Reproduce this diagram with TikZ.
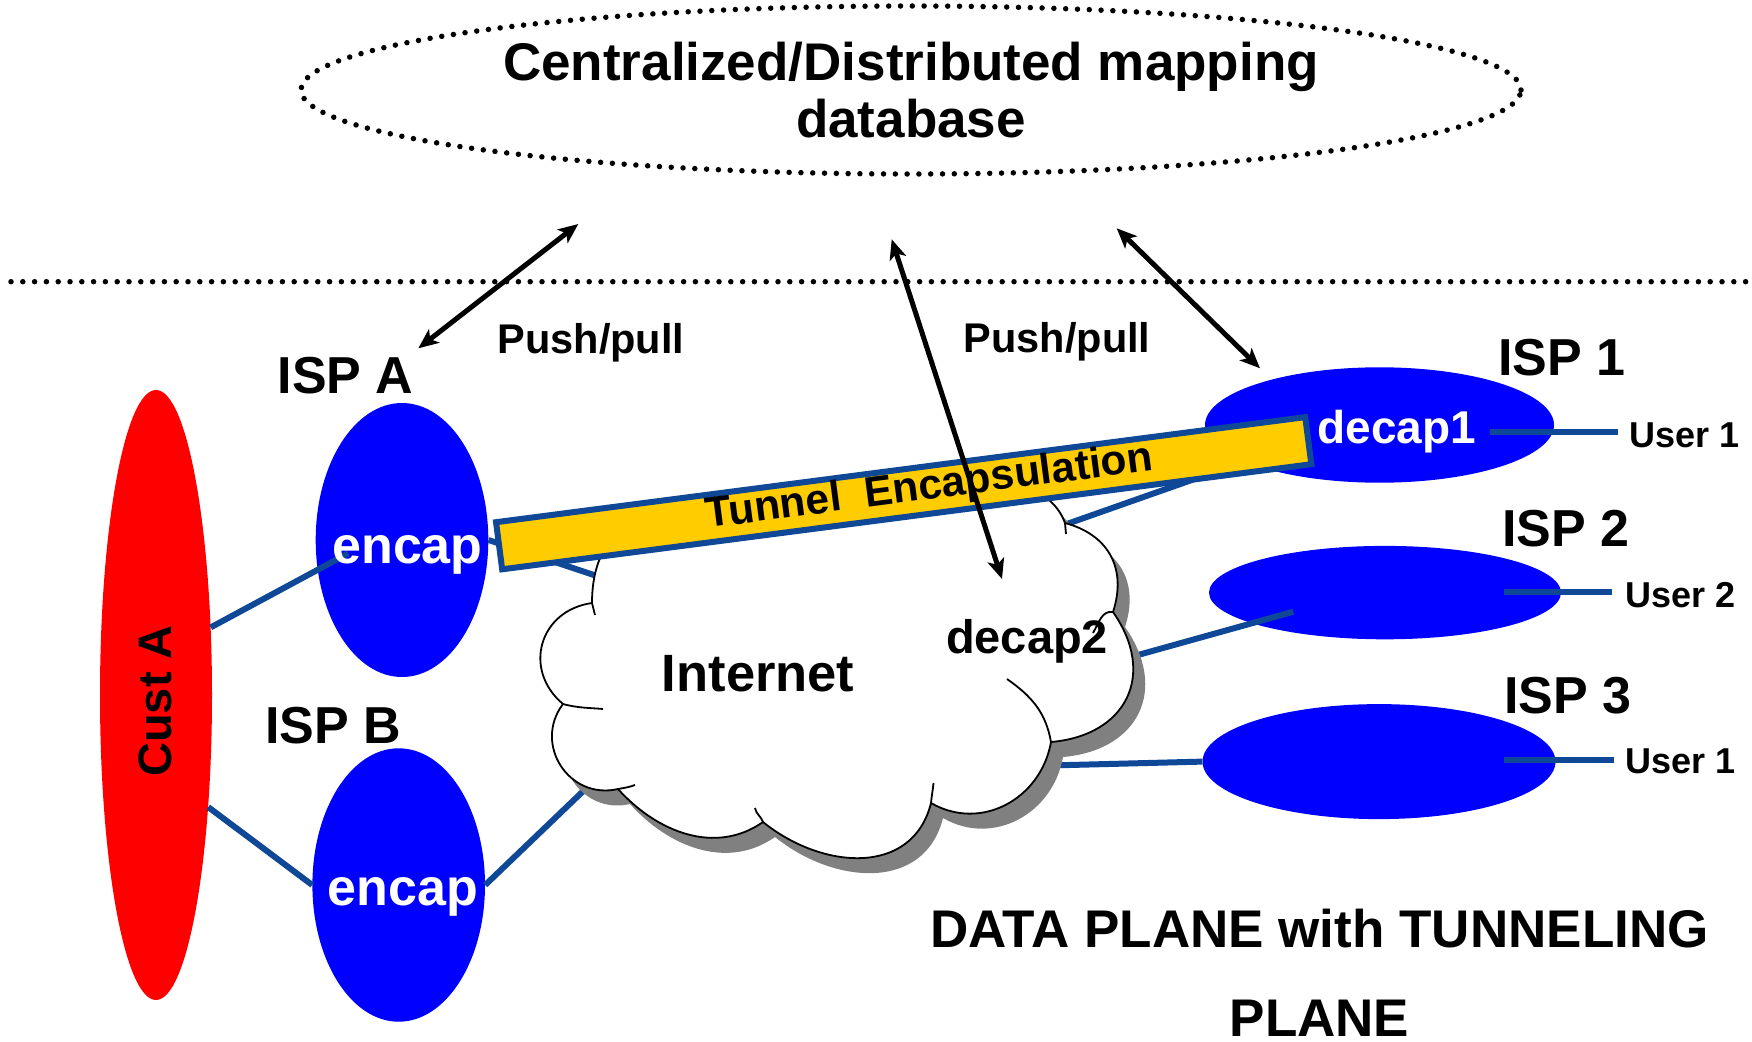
\documentclass[tikz,border=0pt]{standalone}
\usepackage{fontspec}
\setmainfont{Liberation Sans}
\usetikzlibrary{shapes.geometric,arrows.meta}

\definecolor{ispblue}{RGB}{0,0,255}
\definecolor{custred}{RGB}{255,0,0}
\definecolor{wireblue}{RGB}{14,72,150}
\definecolor{tunnelyellow}{RGB}{255,204,0}
\definecolor{shadowgray}{RGB}{128,128,128}

\tikzset{
  blob/.style={ellipse, inner sep=0pt, draw=none},
  ispblob/.style={blob, fill=ispblue},
  custblob/.style={blob, fill=custred},
  wire/.style={draw=wireblue, line width=6pt},
  userwire/.style={draw=wireblue, line width=6pt},
  dbarrow/.style={line width=5pt,
    {Stealth[length=20pt,width=17pt,inset=5pt]}-{Stealth[length=20pt,width=17pt,inset=5pt]}},
  dots/.style={line width=5.5pt, line cap=round, dash pattern=on 0pt off 11.8pt},
  txt/.style={inner sep=0pt, font=\bfseries\fontsize{#1}{#1}\selectfont},
  tunnelbar/.style={rectangle, rotate=7.4, minimum width=816pt, minimum height=47.5pt,
    fill=tunnelyellow, draw=wireblue, line width=6pt, inner sep=0pt},
  cloudline/.style={draw=black, line width=1.8pt}
}

% outline of the Internet cloud, puff by puff
\newcommand\cloudoutline[1]{%
  \path[#1] (592,-603)
    to[out=188,in=140,looseness=1.3] (563,-704)
    to[out=233,in=193,looseness=1.27] (618,-789)
    to[out=312,in=215,looseness=1.0] (763,-822)
    to[out=321,in=256,looseness=1.15] (931,-803)
    to[out=330,in=260,looseness=1.1] (1051,-742)
    to[out=5,in=305,looseness=1.35] (1113,-612)
    to[out=72,in=345,looseness=1.15] (1065,-523)
    to[out=110,in=30,looseness=0.8] (820,-520)
    to[out=165,in=90,looseness=1.2] (592,-603)
    -- cycle;}

\begin{document}
\begin{tikzpicture}[x=1pt,y=1pt]
\useasboundingbox (0,0) rectangle (1752,-1041);

% control plane: the mapping database
\node[ellipse, draw, dots, minimum width=1220pt, minimum height=168pt, inner sep=0pt,
      align=center, font=\bfseries\fontsize{53}{56.7}\selectfont]
  (db) at (911,-90) {Centralized/Distributed mapping\\database};

% separator between control and data plane
\coordinate (sepL) at (11,-281.7);
\coordinate (sepR) at (1752,-281.7);
\draw[dots] (sepL) -- (sepR);

% customer and provider networks
\node[custblob, minimum width=112pt, minimum height=610pt] (custA) at (156,-695) {};
\node[ispblob, minimum width=172.6pt, minimum height=274pt] (ispA) at (402,-540) {};
\node[ispblob, minimum width=172.6pt, minimum height=273.4pt] (ispB) at (398.7,-885) {};
\node[ispblob, minimum width=349pt, minimum height=115.4pt] (isp1) at (1379.5,-425) {};
\node[ispblob, minimum width=352pt, minimum height=93.4pt] (isp2) at (1385,-592.6) {};
\node[ispblob, minimum width=353pt, minimum height=115pt] (isp3) at (1379,-761.6) {};

% attachment points
\coordinate (custAin) at (348.3,-553.3);
\coordinate (netA) at (600,-577);
\coordinate (netB) at (600,-775);
\coordinate (net1) at (1060,-526.4);
\coordinate (in1) at (1240,-463);
\coordinate (net2) at (1120,-660);
\coordinate (in2) at (1293.3,-611.7);
\coordinate (net3) at (1030,-766);
\coordinate (u1a) at (1490,-432);
\coordinate (u1b) at (1618,-432);
\coordinate (u2a) at (1504,-592);
\coordinate (u2b) at (1612,-592);
\coordinate (u3a) at (1504,-760);
\coordinate (u3b) at (1614,-760);

% access links
\draw[wire] (custA.51) -- (custAin);
\draw[wire] (custA.-65) -- (ispB.west);
\draw[wire] (ispA.east) -- (netA);
\draw[wire] (ispB.east) -- (netB);
\draw[wire] (net1) -- (in1);
\draw[wire] (net2) -- (in2);
\draw[wire] (net3) -- (isp3.west);
\draw[userwire] (u1a) -- (u1b);
\draw[userwire] (u2a) -- (u2b);
\draw[userwire] (u3a) -- (u3b);

% the Internet cloud with its drop shadow
\cloudoutline{fill=shadowgray, shift={(12,-15)}}
\cloudoutline{fill=white, cloudline}
\draw[cloudline] (592,-603) -- (595,-615);
\draw[cloudline] (563,-704) to[out=-15,in=175] (603,-709);
\draw[cloudline] (618,-789) to[out=10,in=200] (635,-785);
\draw[cloudline] (763,-822) to[out=110,in=-80] (755,-808);
\draw[cloudline] (931,-803) to[out=85,in=-95] (933.5,-783);
\draw[cloudline] (1051,-742) to[out=100,in=-35] (1007,-679);
\draw[cloudline] (1113,-612) to[out=170,in=60] (1093,-633);
\draw[cloudline] (1065,-523) -- (1066,-534);

% tunnel
\node[tunnelbar] (tunnel) at (903.7,-493.2) {};
\node[txt=42.5, rotate=7.4, anchor=base] (tunneltxt) at (931,-499) {Tunnel\ \ Encapsulation};

% labels
\node[txt=53, align=center, font=\bfseries\fontsize{53}{89}\selectfont] (plane) at (1319.5,-972.5) {DATA PLANE with TUNNELING\\PLANE};
\node[txt=52, anchor=base] (ispAlbl) at (345.5,-393) {ISP A};
\node[txt=52, anchor=base] (ispBlbl) at (333.3,-743) {ISP B};
\node[txt=52, anchor=base] (isp1lbl) at (1562,-375) {ISP 1};
\node[txt=52, anchor=base] (isp2lbl) at (1566,-546.7) {ISP 2};
\node[txt=52, anchor=base] (isp3lbl) at (1568,-713.3) {ISP 3};
\node[txt=52, anchor=base, text=white] (encapA) at (407.5,-563.3) {encap};
\node[txt=52, anchor=base, text=white] (encapB) at (402.8,-905) {encap};
\node[txt=46, anchor=base, text=white] (decap1) at (1396.7,-443.3) {decap1};
\node[txt=47, anchor=base] (decap2) at (1027,-653.3) {decap2};
\node[txt=52.5, anchor=base] (internet) at (758.2,-691.7) {Internet};
\node[txt=47, rotate=90, anchor=base] (custAlbl) at (171,-701) {Cust A};
\node[txt=36, anchor=base west] (user1) at (1629,-447) {User 1};
\node[txt=36, anchor=base west] (user2) at (1625.5,-607) {User 2};
\node[txt=36, anchor=base west] (user3) at (1625.5,-773) {User 1};
\node[txt=41.5, anchor=base] (pp1) at (591,-353.3) {Push/pull};
\node[txt=41.5, anchor=base] (pp2) at (1057,-352.7) {Push/pull};

% push/pull signalling with the mapping database
\coordinate (a1top) at (578.3,-224);
\coordinate (a1bot) at (418.3,-348.3);
\coordinate (a2top) at (891.7,-239.3);
\coordinate (a2bot) at (1002,-579);
\coordinate (a3top) at (1116.7,-228.3);
\coordinate (a3bot) at (1260,-368.3);
\draw[dbarrow] (a1top) -- (a1bot);
\draw[dbarrow] (a2top) -- (a2bot);
\draw[dbarrow] (a3top) -- (a3bot);
\end{tikzpicture}
\end{document}
